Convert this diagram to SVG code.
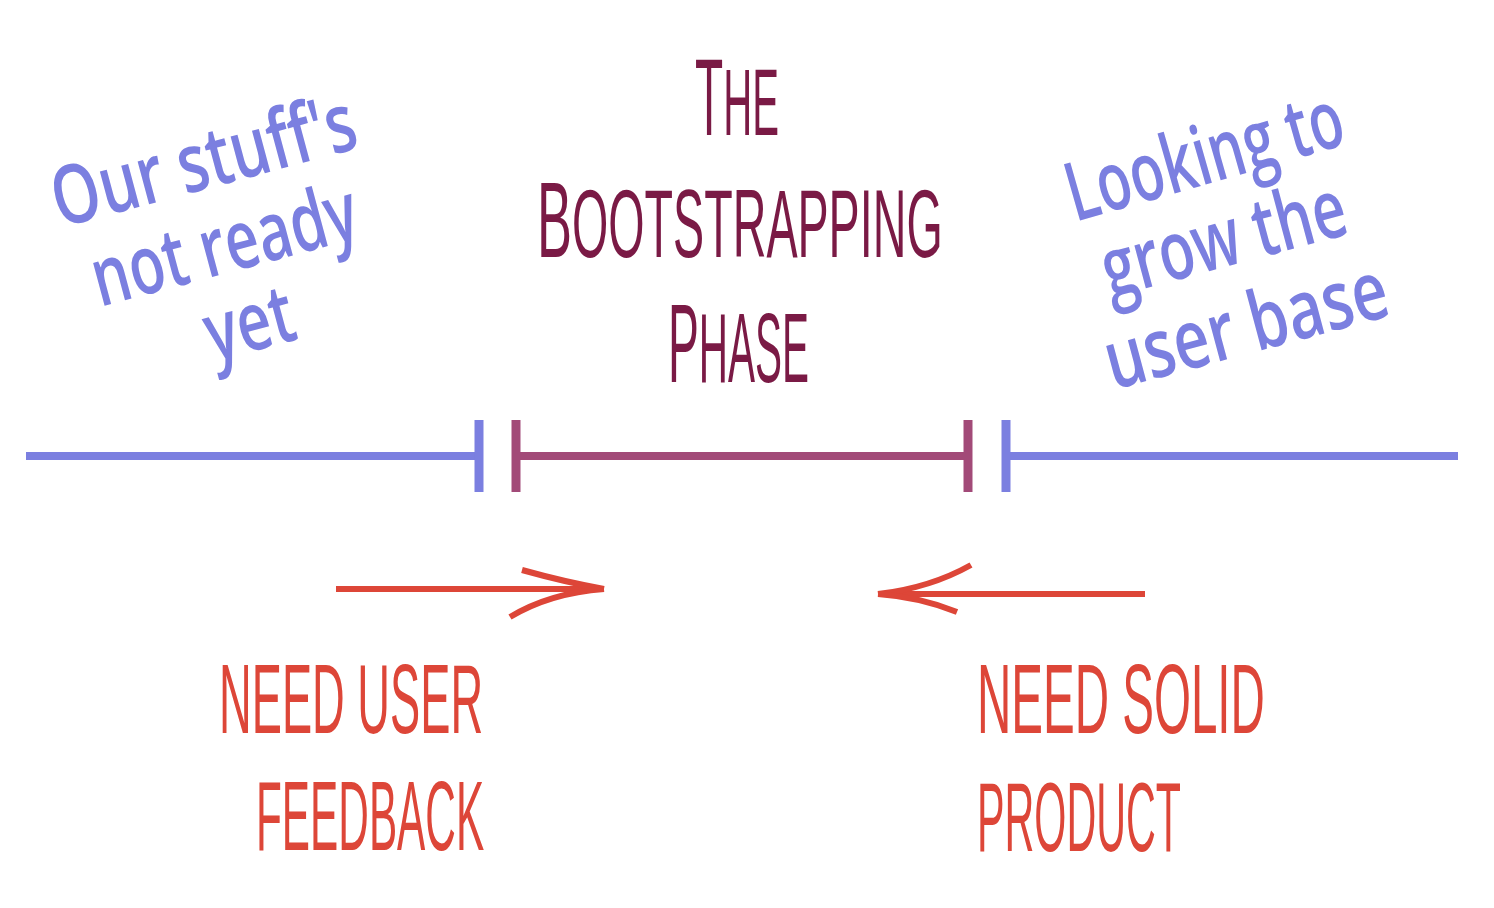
<svg xmlns="http://www.w3.org/2000/svg" width="1494" height="908" viewBox="0 0 1494 908">
<style>
.bl{stroke:#7b7fe0;fill:none}
.mg{stroke:#a24a78;fill:none}
.rd{stroke:#dd4638;fill:none;stroke-width:6;stroke-linecap:butt}
.hand{font-family:"Open Sans","DejaVu Sans",sans-serif;fill:#7b7fe0;font-size:82px;font-weight:600}
.title{font-family:"Liberation Sans",Arial,sans-serif;fill:#7a1a45}
.lab{font-family:"Liberation Sans",Arial,sans-serif;fill:#dd4638;font-size:98px}
</style>
<rect width="1494" height="908" fill="#fff"/>
<g id="timeline">
<line class="bl" x1="26" y1="456" x2="479" y2="456" stroke-width="8"/>
<line class="bl" x1="479" y1="420" x2="479" y2="492" stroke-width="9"/>
<line class="mg" x1="516" y1="420" x2="516" y2="492" stroke-width="9"/>
<line class="mg" x1="516" y1="456" x2="968" y2="456" stroke-width="8"/>
<line class="mg" x1="968" y1="420" x2="968" y2="492" stroke-width="9"/>
<line class="bl" x1="1006" y1="420" x2="1006" y2="492" stroke-width="9"/>
<line class="bl" x1="1006" y1="456" x2="1458" y2="456" stroke-width="8"/>
</g>
<g id="connectors">
<g id="arrow-right">
<line class="rd" x1="336" y1="589" x2="604" y2="589"/>
<path class="rd" d="M522,570 Q565,582 604,589"/>
<path class="rd" d="M510,617 Q550,593 604,589"/>
</g>
<g id="arrow-left">
<line class="rd" x1="878" y1="594" x2="1145" y2="594"/>
<path class="rd" d="M971,565 Q930,588 878,594"/>
<path class="rd" d="M957,612 Q920,597 878,594"/>
</g>
</g>
<g id="title">
<text class="title" transform="translate(695 135) scale(0.423 1)"><tspan font-size="109">T</tspan><tspan font-size="95">HE</tspan></text>
<text class="title" transform="translate(537 257) scale(0.486 1)"><tspan font-size="108">B</tspan><tspan font-size="96">OOTSTRAPPING</tspan></text>
<text class="title" transform="translate(668 382) scale(0.413 1)"><tspan font-size="112">P</tspan><tspan font-size="98">HASE</tspan></text>
</g>
<g id="left-note">
<text class="hand" transform="rotate(-15 60 228)" x="60" y="228" textLength="312" lengthAdjust="spacingAndGlyphs">Our stuff's</text>
<text class="hand" transform="rotate(-15 100 307)" x="100" y="307" textLength="272" lengthAdjust="spacingAndGlyphs">not ready</text>
<text class="hand" transform="rotate(-15 213 362)" x="213" y="362" textLength="90" lengthAdjust="spacingAndGlyphs">yet</text>
</g>
<g id="right-note">
<text class="hand" transform="rotate(-16 1075 222)" x="1075" y="222" textLength="285" lengthAdjust="spacingAndGlyphs">Looking to</text>
<text class="hand" transform="rotate(-15 1110 298)" x="1110" y="298" textLength="250" lengthAdjust="spacingAndGlyphs">grow the</text>
<text class="hand" transform="rotate(-15 1113 390)" x="1113" y="390" textLength="290" lengthAdjust="spacingAndGlyphs">user base</text>
</g>
<g id="label-left">
<text class="lab" transform="translate(219 733) scale(0.462 1)">NEED USER</text>
<text class="lab" transform="translate(256 850) scale(0.432 1)">FEEDBACK</text>
</g>
<g id="label-right">
<text class="lab" transform="translate(977 733) scale(0.485 1)">NEED SOLID</text>
<text class="lab" transform="translate(977 851) scale(0.421 1)">PRODUCT</text>
</g>
</svg>
